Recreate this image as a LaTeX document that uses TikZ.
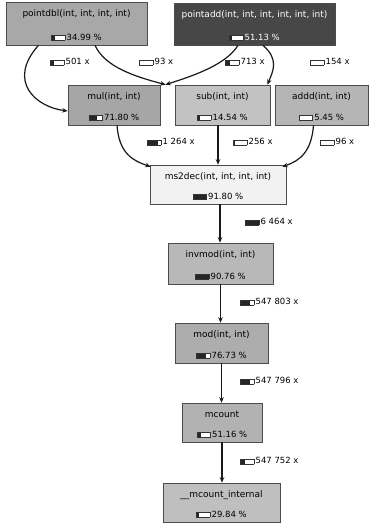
\documentclass[tikz,border=0pt]{standalone}
\usepackage{fontspec}
\setmainfont{DejaVu Sans}
\usetikzlibrary{arrows.meta}
\newcommand\pbar[1]{{\setlength\fboxsep{0pt}\setlength\fboxrule{0.5pt}\fcolorbox{black!80}{white}{\color{black!85}\rule{#1pt}{4.5pt}\hspace{\dimexpr13pt-#1pt\relax}}}}
\newcommand\fntext[4]{%
  \node[nm,font=\fontsize{9}{10}\selectfont] (#1-t) at ([yshift=-12pt]#1.north) {#2};
  \node[nm] (#1-p) at ([yshift=8pt]#1.south) {\pbar{#3}\,#4};}
\begin{document}
\begin{tikzpicture}[x=1pt,y=-1pt,font=\fontsize{8.5}{9.5}\selectfont,
  fn/.style={draw=black!70,line width=0.6pt,inner sep=0pt},
  edge/.style={draw=black!90,line width=1.2pt,-{Stealth[length=5.5pt,width=4.5pt]}},
  nm/.style={anchor=center,inner sep=0pt},
  lbl/.style={anchor=west,inner sep=0pt}]
\useasboundingbox (0,0) rectangle (369,525);
\fill[white] (0,0) rectangle (369,525);

% function nodes
\node[fn,fill=black!34,minimum width=141pt,minimum height=43pt] (pd) at (76.5,23.5) {};
\node[fn,fill=black!72,minimum width=161pt,minimum height=42pt] (pa) at (254.5,24) {};
\node[fn,fill=black!35,minimum width=92pt,minimum height=40pt] (mul) at (114,105) {};
\node[fn,fill=black!24,minimum width=95pt,minimum height=40pt] (sub) at (222.5,105) {};
\node[fn,fill=black!29,minimum width=93pt,minimum height=40pt] (addd) at (321.5,105) {};
\node[fn,fill=black!5,minimum width=136pt,minimum height=39pt] (ms) at (218,184.5) {};
\node[fn,fill=black!28,minimum width=105pt,minimum height=41pt] (inv) at (220.5,263.5) {};
\node[fn,fill=black!32,minimum width=93pt,minimum height=40pt] (mod) at (221.5,343) {};
\node[fn,fill=black!30,minimum width=80pt,minimum height=39pt] (mc) at (222,422.5) {};
\node[fn,fill=black!25,minimum width=117pt,minimum height=39pt] (mci) at (221.5,502.5) {};

\fntext{pd}{pointdbl(int, int, int, int)}{3}{34.99 \%}
\fntext{pa}{\textcolor{white}{pointadd(int, int, int, int, int, int)}}{2}{\textcolor{white}{51.13 \%}}
\fntext{mul}{mul(int, int)}{8}{71.80 \%}
\fntext{sub}{sub(int, int)}{2}{14.54 \%}
\fntext{addd}{addd(int, int)}{1}{5.45 \%}
\fntext{ms}{ms2dec(int, int, int, int)}{13}{91.80 \%}
\fntext{inv}{invmod(int, int)}{13}{90.76 \%}
\fntext{mod}{mod(int, int)}{9}{76.73 \%}
\fntext{mc}{mcount}{4}{51.16 \%}
\fntext{mci}{\_\_mcount\_internal}{2}{29.84 \%}

% call edges
\draw[edge] ([xshift=-38pt]pd.south) .. controls +(-32,36) and +(-32,-4) .. ([yshift=-6pt]mul.west);
\draw[edge] ([xshift=18.5pt]pd.south) .. controls +(10,22) and +(-30,-8) .. ([xshift=-9pt]sub.north west);
\draw[edge] ([xshift=-16.5pt]pa.south) .. controls +(-12,20) and +(25,-8) .. ([xshift=5pt]mul.north east);
\draw[edge] ([xshift=8.5pt]pa.south) .. controls +(16,14) and +(6,-14) .. ([xshift=-3pt]sub.north east);
\draw[edge] ([xshift=3pt]mul.south) .. controls +(2,28) and +(-18,-6) .. ([xshift=1pt,yshift=-2pt]ms.north west);
\draw[edge] ([xshift=-4.5pt]sub.south) -- ([xshift=-4.5pt]sub.south |- ms.north);
\draw[edge] ([xshift=-8pt]addd.south) .. controls +(-2,26) and +(18,-6) .. ([xshift=-4pt,yshift=-2pt]ms.north east);
\draw[edge] ([xshift=2pt]ms.south) -- ([xshift=2pt]ms.south |- inv.north);
\draw[edge] (inv.south) -- (inv.south |- mod.north);
\draw[edge] (mod.south) -- (mod.south |- mc.north);
\draw[edge] (mc.south) -- (mc.south |- mci.north);

% call counts
\node[lbl] (l1) at (50,62) {\pbar{3}\,501 x};
\node[lbl] (l2) at (139,62) {\pbar{0}\,93 x};
\node[lbl] (l3) at (225,62) {\pbar{4}\,713 x};
\node[lbl] (l4) at (310,62) {\pbar{0}\,154 x};
\node[lbl] (l5) at (147,142) {\pbar{10}\,1 264 x};
\node[lbl] (l6) at (233,142) {\pbar{1}\,256 x};
\node[lbl] (l7) at (320,142) {\pbar{0}\,96 x};
\node[lbl] (l8) at (245,222) {\pbar{13}\,6 464 x};
\node[lbl] (l9) at (240,302) {\pbar{9}\,547 803 x};
\node[lbl] (l10) at (240,381) {\pbar{9}\,547 796 x};
\node[lbl] (l11) at (240,461) {\pbar{4}\,547 752 x};
\end{tikzpicture}
\end{document}
